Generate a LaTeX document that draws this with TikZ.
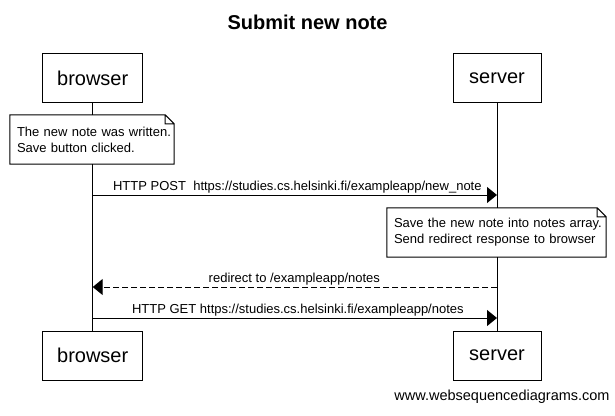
\documentclass[tikz,border=0pt]{standalone}
\usepackage{fontspec}
\setmainfont{Liberation Sans}
\usetikzlibrary{arrows.meta,positioning,calc}

\begin{document}
\begin{tikzpicture}
[x=1pt,y=-1pt,
actor/.style={draw,line width=1pt,minimum height=49pt,font=\fontsize{20}{24}\selectfont},
note/.style={fill=white,minimum height=49pt,inner xsep=7pt,align=left,font=\fontsize{13}{16}\selectfont},
msg/.style={line width=1pt,-{Triangle[length=10pt,width=16pt]}},
reply/.style={msg,dash pattern=on 6pt off 3pt},
lbl/.style={midway,above,inner xsep=0pt,inner ysep=1.2pt,font=\fontsize{13}{16}\selectfont,text height=9.5pt,text depth=2.7pt}]

\useasboundingbox (0,0) rectangle (615,415);

% title
\node[font=\bfseries\fontsize{20}{24}\selectfont] (title) at (307.5,22) {Submit new note};

% participants, top and bottom
\node[actor,minimum width=100pt] (btop) at (92.7,78) {browser};
\node[actor,minimum width=88pt] (stop) at (497,78) {server};
\node[actor,minimum width=100pt] (bbot) at (92.7,355.5) {browser};
\node[actor,minimum width=88pt] (sbot) at (497,355.5) {server};

% lifelines
\draw[line width=1pt] (btop) -- (bbot);
\draw[line width=1pt] (stop) -- (sbot);

% notes
\node[note,text width=150pt] (bnote) at (92,139.5)
  {\mbox{The new note was written.}\\\mbox{Save button clicked.}};
\node[note,text width=205pt] (snote) at (496.5,232.5)
  {\mbox{Save the new note into notes array.}\\\mbox{Send redirect response to browser}};
\foreach \n in {bnote,snote}
\draw[line width=1pt] (\n.north west) -- ([xshift=-9pt]\n.north east) -- ([yshift=-9pt]\n.north east)
  -- (\n.south east) -- (\n.south west) -- cycle
  ([xshift=-9pt]\n.north east) |- ([yshift=-9pt]\n.north east);

% messages
\coordinate (b1) at (btop.south |- 0,195);
\coordinate (s1) at (stop.south |- 0,195);
\coordinate (b2) at (btop.south |- 0,287);
\coordinate (s2) at (stop.south |- 0,287);
\coordinate (b3) at (btop.south |- 0,318);
\coordinate (s3) at (stop.south |- 0,318);
\draw[msg] (b1) -- (s1) node[lbl,xshift=2.5pt] {HTTP POST\ \ https://studies.cs.helsinki.fi/exampleapp/new\_note};
\draw[reply] (s2) -- (b2) node[lbl,xshift=-0.5pt] {redirect to /exampleapp/notes};
\draw[msg] (b3) -- (s3) node[lbl,xshift=3pt] {HTTP GET https://studies.cs.helsinki.fi/exampleapp/notes};

% watermark
\node[font=\fontsize{14.5}{17}\selectfont] (wsd) at (502,397) {www.websequencediagrams.com};
\end{tikzpicture}
\end{document}
